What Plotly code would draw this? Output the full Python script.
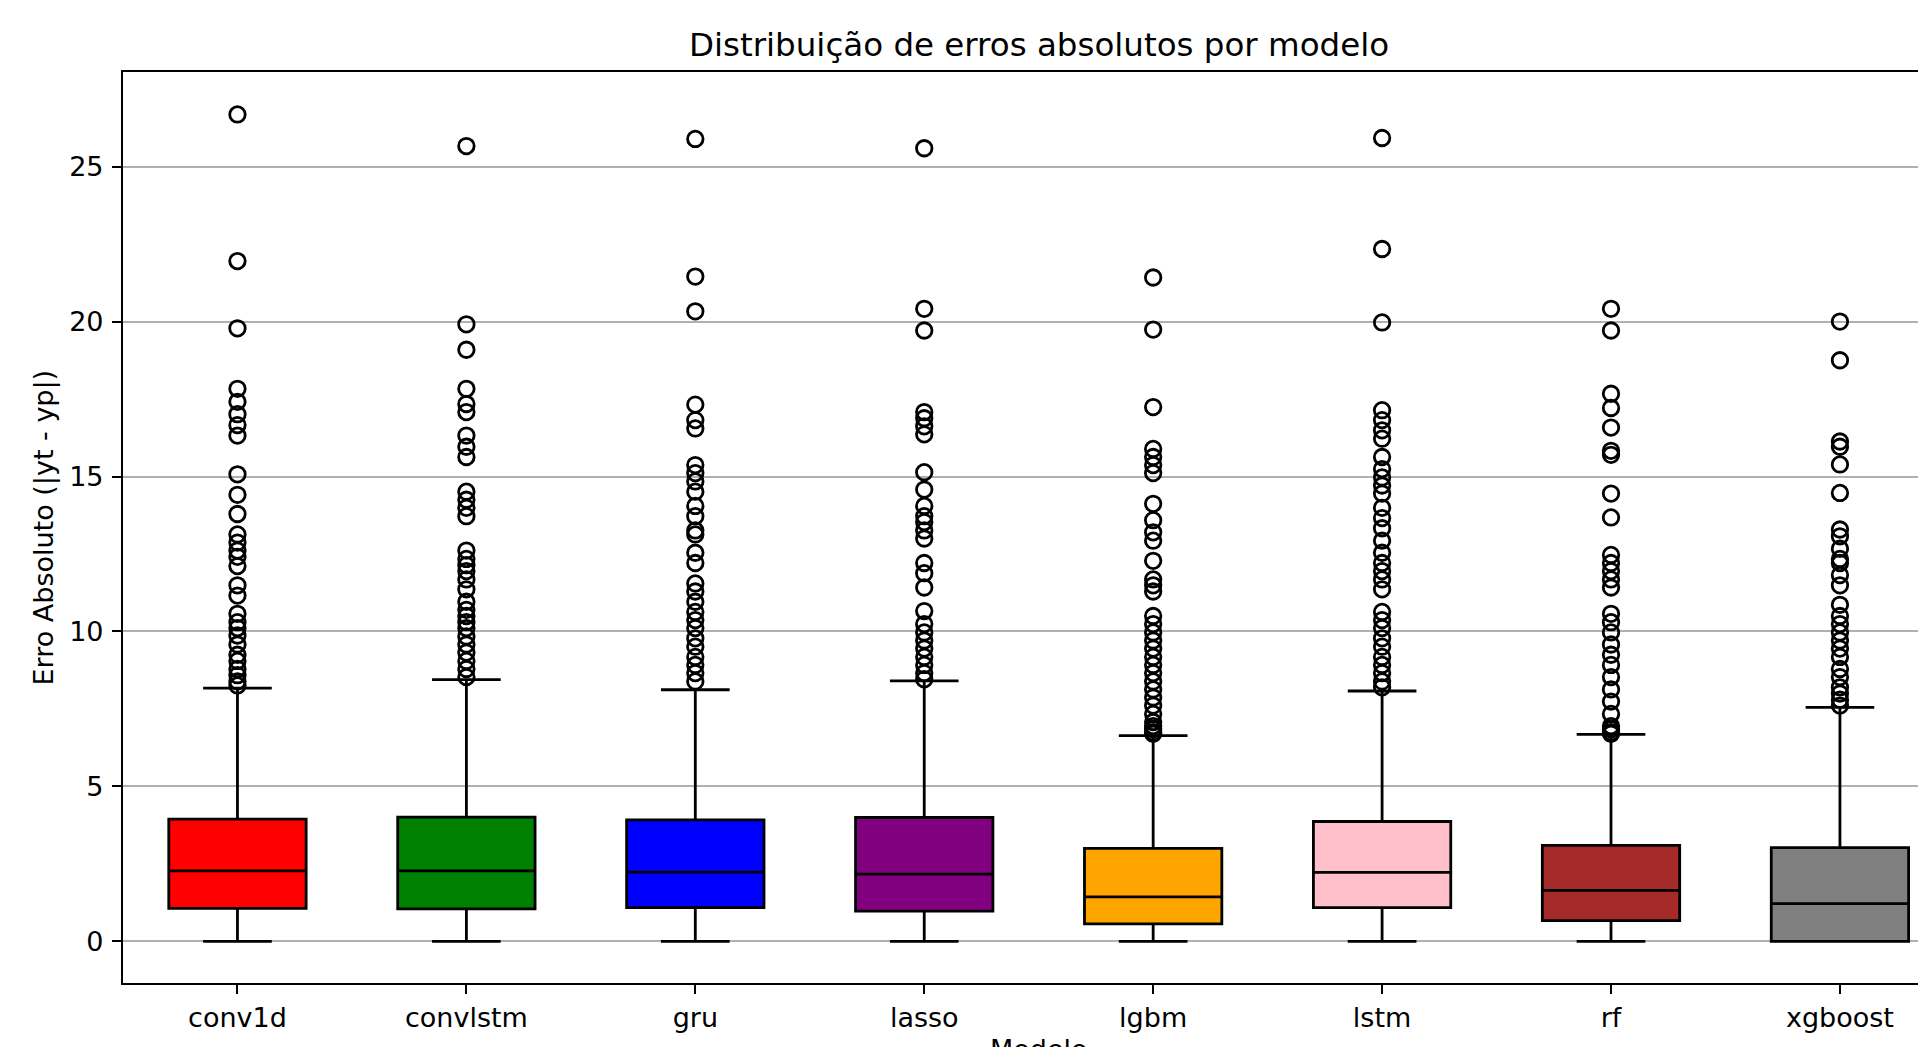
import plotly.graph_objects as go

models = ["conv1d", "convlstm", "gru", "lasso", "lgbm", "lstm", "rf", "xgboost"]
colors = ["#FF0000", "#008000", "#0000FF", "#800080", "#FFA500", "#FFC0CB", "#A52A2A", "#808080"]

q1 = [1.07, 1.05, 1.09, 0.98, 0.57, 1.09, 0.67, 0.0]
median = [2.28, 2.28, 2.24, 2.17, 1.44, 2.23, 1.65, 1.22]
q3 = [3.95, 4.01, 3.92, 4.00, 3.00, 3.87, 3.10, 3.03]
lower = [0.0, 0.0, 0.0, 0.0, 0.0, 0.0, 0.0, 0.0]
upper = [8.17, 8.45, 8.12, 8.41, 6.64, 8.08, 6.68, 7.55]

out_conv1d = [26.68, 21.95, 19.78, 17.83, 17.41, 17.01, 16.66, 16.32, 15.07, 14.41, 13.79,
              13.13, 12.87, 12.61, 12.41, 12.11, 11.49, 11.16, 10.57, 10.30, 10.11, 9.87,
              9.58, 9.25, 9.05, 8.79, 8.59, 8.39, 8.26]
out_convlstm = [25.66, 19.91, 19.09, 17.83, 17.34, 17.08, 16.32, 15.96, 15.63, 14.51, 14.25,
                13.99, 13.72, 12.61, 12.34, 12.14, 11.95, 11.68, 11.36, 10.96, 10.70, 10.50,
                10.30, 10.11, 9.84, 9.58, 9.32, 9.05, 8.79, 8.53]
out_gru = [25.89, 21.45, 20.33, 17.32, 16.82, 16.55, 15.37, 15.11, 14.84, 14.51, 14.05, 13.72,
           13.26, 13.13, 12.54, 12.21, 11.55, 11.29, 10.96, 10.63, 10.37, 10.11, 9.78, 9.51,
           9.18, 8.92, 8.66, 8.39]
out_lasso = [25.59, 20.41, 19.71, 17.08, 16.88, 16.62, 16.36, 15.14, 14.58, 14.05, 13.72, 13.53,
             13.26, 13.00, 12.21, 11.88, 11.42, 10.66, 10.24, 9.97, 9.71, 9.45, 9.18, 8.92,
             8.66, 8.46]
out_lgbm = [21.42, 19.74, 17.24, 15.89, 15.63, 15.37, 15.11, 14.12, 13.59, 13.20, 12.93, 12.28,
            11.68, 11.49, 11.29, 10.50, 10.24, 9.97, 9.71, 9.45, 9.18, 8.92, 8.66, 8.39, 8.13,
            7.87, 7.61, 7.34, 7.08, 6.95, 6.85, 6.75, 6.70]
out_lstm = [25.92, 22.34, 19.97, 17.14, 16.82, 16.49, 16.22, 15.63, 15.24, 14.97, 14.71, 14.45,
            13.99, 13.66, 13.33, 12.93, 12.54, 12.21, 11.95, 11.68, 11.36, 10.63, 10.37, 10.11,
            9.78, 9.51, 9.18, 8.92, 8.66, 8.39, 8.20]
out_rf = [20.41, 19.71, 17.67, 17.21, 16.58, 15.83, 15.70, 14.45, 13.68, 12.47, 12.21, 11.95,
          11.68, 11.42, 10.57, 10.30, 9.97, 9.58, 9.25, 8.92, 8.53, 8.13, 7.74, 7.34, 6.95,
          6.85, 6.75, 6.70]
out_xgboost = [20.00, 18.75, 16.13, 15.96, 15.39, 14.47, 13.29, 13.07, 12.67, 12.34, 12.21,
               11.82, 11.49, 10.86, 10.50, 10.24, 9.97, 9.71, 9.45, 9.18, 8.79, 8.53, 8.20,
               8.00, 7.80, 7.61]
outliers = [out_conv1d, out_convlstm, out_gru, out_lasso, out_lgbm, out_lstm, out_rf, out_xgboost]

yticks = [0, 5, 10, 15, 20, 25]

title_text = "Distribuição de erros absolutos por modelo"
xlabel = "Modelo"
ylabel = "Erro Absoluto (|yt - yp|)"

FONT = "DejaVu Sans"
fig = go.Figure()

for i, m in enumerate(models):
    pos = i + 1
    fig.add_trace(go.Box(
        x=[pos], q1=[q1[i]], median=[median[i]], q3=[q3[i]],
        lowerfence=[lower[i]], upperfence=[upper[i]],
        boxpoints=False, width=0.6, whiskerwidth=0.5,
        fillcolor=colors[i], line=dict(color="black", width=2.8),
        name=m, showlegend=False, hoverinfo="skip",
    ))
    fig.add_trace(go.Scatter(
        x=[pos] * len(outliers[i]), y=outliers[i], mode="markers",
        marker=dict(symbol="circle-open", size=15.5, color="black", line=dict(width=2.8, color="black")),
        showlegend=False, hoverinfo="skip", cliponaxis=False,
    ))

fig.update_layout(
    width=1910, height=1039,
    margin=dict(l=115, r=0, t=64, b=64, pad=0),
    plot_bgcolor="white", paper_bgcolor="white",
    font=dict(family=FONT, size=27, color="black"),
    annotations=[
        dict(text=title_text, xref="x", x=4.5, yref="paper", y=1, yanchor="middle",
             yshift=27, showarrow=False, font=dict(family=FONT, size=32.5, color="black")),
        dict(text=xlabel, xref="x", x=4.5, yref="paper", y=0, yanchor="top",
             yshift=-49, showarrow=False, font=dict(family=FONT, size=27, color="black")),
        dict(text=ylabel, xref="paper", x=0, xanchor="center", xshift=-80, yref="paper", y=0.5,
             yanchor="middle", textangle=-90, showarrow=False,
             font=dict(family=FONT, size=27, color="black")),
    ],
)

fig.update_xaxes(
    range=[0.5, 8.341], tickmode="array", tickvals=list(range(1, len(models) + 1)), ticktext=models,
    showgrid=False, zeroline=False, showline=True, linecolor="black", linewidth=2.2, mirror=True,
    ticks="outside", ticklen=9, tickwidth=2.1, tickcolor="black", ticklabelstandoff=0,
    tickfont=dict(family=FONT, size=27, color="black"),
)
fig.update_yaxes(
    range=[-1.34, 28.05], tickmode="array", tickvals=yticks, ticktext=[str(v) for v in yticks],
    showgrid=True, gridcolor="#b0b0b0", gridwidth=2.1, zeroline=False,
    showline=True, linecolor="black", linewidth=2.2, mirror=False,
    ticks="outside", ticklen=9, tickwidth=2.1, tickcolor="black", ticklabelstandoff=3,
    tickfont=dict(family=FONT, size=27, color="black"),
)

fig.write_html("out.html")
